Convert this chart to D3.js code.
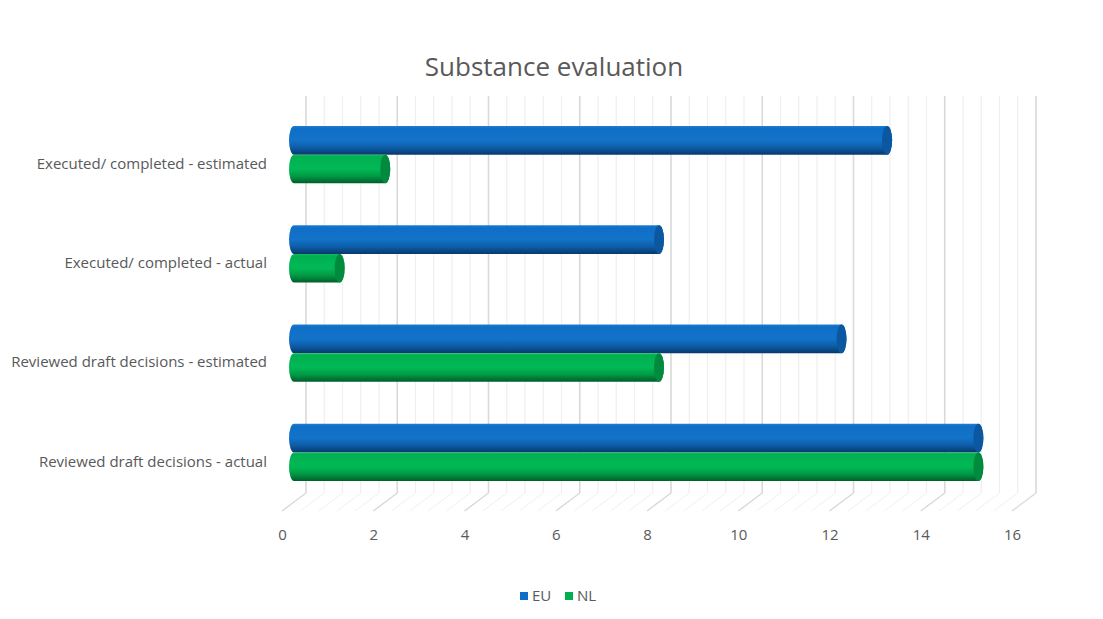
<!DOCTYPE html>
<html>
<head>
<meta charset="utf-8">
<script src="https://cdn.jsdelivr.net/npm/d3@7"></script>
<style>
body { margin: 0; background: #fff; }
text { font-family: "Open Sans", "Liberation Sans", sans-serif; fill: #595959; }
</style>
</head>
<body>
<svg id="chart" width="1103" height="619"></svg>
<script>
var CATEGORIES = [
    "Executed/ completed - estimated",
    "Executed/ completed - actual",
    "Reviewed draft decisions - estimated",
    "Reviewed draft decisions - actual"
];
var SERIES = ["EU", "NL"];
var EU_VALUES = [13, 8, 12, 15];
var NL_VALUES = [2, 1, 8, 15];
var X_TICKS = [0, 2, 4, 6, 8, 10, 12, 14, 16];

var WALL_TOP = 96;
var WALL_BOTTOM = 493;
var DEPTH_X = -24;
var DEPTH_Y = 18;
var CAP_RX = 5;

var COLORS = {
    EU: { stops: ["#1f7dd2", "#0f6fc6", "#1273c9", "#0d5da8", "#08396c"], cap: "#0b57a0", key: "#0f6fc6" },
    NL: { stops: ["#17bb60", "#00b050", "#02b956", "#009a45", "#005e2a"], cap: "#008a3d", key: "#00b050" }
};
var STOP_OFFSETS = [0, 0.08, 0.5, 0.75, 1];

var svg = d3.select("#chart");

// back wall scale, front (floor edge) and mid depth (bars) are shifted from it
var xBack = d3.scaleLinear().domain([0, 16]).range([306, 1036]);
var xFront = d3.scaleLinear().domain([0, 16]).range([306 + DEPTH_X, 1036 + DEPTH_X]);
var xMid = d3.scaleLinear().domain([0, 16]).range([306 + DEPTH_X / 2, 1036 + DEPTH_X / 2]);

var y0 = d3.scaleBand().domain(CATEGORIES).range([WALL_TOP, WALL_BOTTOM])
    .paddingInner(0.425).paddingOuter(0.2125);
var y1 = d3.scaleBand().domain(SERIES).range([0, y0.bandwidth()]);

var rows = CATEGORIES.map(function(c, i) {
    return { category: c, values: [
        { key: "EU", value: EU_VALUES[i] },
        { key: "NL", value: NL_VALUES[i] }
    ]};
});

// gradients
var defs = svg.append("defs");
SERIES.forEach(function(s) {
    var g = defs.append("linearGradient").attr("id", "grad-" + s)
        .attr("x1", 0).attr("y1", 0).attr("x2", 0).attr("y2", 1);
    COLORS[s].stops.forEach(function(c, i) {
        g.append("stop").attr("offset", STOP_OFFSETS[i]).attr("stop-color", c);
    });
});

// Title
svg.append("text")
    .attr("x", 554).attr("y", 76)
    .attr("text-anchor", "middle")
    .style("font-size", "26px")
    .text("Substance evaluation");

// Grid: minor every 0.4, major every 2
var gridValues = d3.range(0, 40.5).map(function(i) { return i * 0.4; });
var grid = svg.append("g").attr("class", "grid");
gridValues.forEach(function(v) {
    var major = Math.abs(v / 2 - Math.round(v / 2)) < 1e-6;
    var col = major ? "#d9d9d9" : "#efefef";
    grid.append("line")
        .attr("x1", xBack(v)).attr("x2", xBack(v))
        .attr("y1", WALL_TOP).attr("y2", WALL_BOTTOM)
        .attr("stroke", col).attr("stroke-width", major ? 1.6 : 1.2);
    grid.append("line")
        .attr("x1", xBack(v)).attr("y1", WALL_BOTTOM)
        .attr("x2", xBack(v) + DEPTH_X).attr("y2", WALL_BOTTOM + DEPTH_Y)
        .attr("stroke", col).attr("stroke-width", major ? 1.4 : 1);
});

// Bars (cylinders)
function cylinder(x0, x1, top, bottom) {
    var ry = (bottom - top) / 2;
    return "M" + x0 + "," + top + "L" + x1 + "," + top +
        "A" + CAP_RX + "," + ry + " 0 0 1 " + x1 + "," + bottom +
        "L" + x0 + "," + bottom +
        "A" + CAP_RX + "," + ry + " 0 0 1 " + x0 + "," + top + "Z";
}

var groups = svg.append("g").selectAll("g.cat")
    .data(rows)
    .join("g")
    .attr("class", "cat")
    .attr("transform", function(d) { return "translate(0," + (y0(d.category) + DEPTH_Y / 2) + ")"; });

var bars = groups.selectAll("g.bar")
    .data(function(d) { return d.values; })
    .join("g")
    .attr("class", "bar");

bars.append("path")
    .attr("d", function(d) {
        return cylinder(xMid(0), xMid(d.value), y1(d.key), y1(d.key) + y1.bandwidth());
    })
    .attr("fill", function(d) { return "url(#grad-" + d.key + ")"; });

bars.append("ellipse")
    .attr("cx", function(d) { return xMid(d.value); })
    .attr("cy", function(d) { return y1(d.key) + y1.bandwidth() / 2; })
    .attr("rx", CAP_RX)
    .attr("ry", y1.bandwidth() / 2)
    .attr("fill", function(d) { return COLORS[d.key].cap; });

// Category labels (front plane)
svg.append("g").selectAll("text")
    .data(CATEGORIES)
    .join("text")
    .attr("x", 267)
    .attr("y", function(d) { return y0(d) + y0.bandwidth() / 2 + DEPTH_Y; })
    .attr("dy", "0.35em")
    .attr("text-anchor", "end")
    .style("font-size", "15px")
    .text(function(d) { return d; });

// X axis on the front edge of the floor
var xAxis = svg.append("g")
    .attr("transform", "translate(0," + (WALL_BOTTOM + DEPTH_Y + 10) + ")")
    .call(d3.axisBottom(xFront).tickValues(X_TICKS).tickSize(0).tickPadding(8));
xAxis.select(".domain").remove();
xAxis.selectAll("text")
    .style("font-size", "15px")
    .style("font-family", "'Open Sans', 'Liberation Sans', sans-serif")
    .attr("fill", "#595959");

// Legend
var legend = svg.append("g").attr("transform", "translate(520,596)");
var legendX = d3.scaleOrdinal().domain(SERIES).range([0, 45]);
var items = legend.selectAll("g")
    .data(SERIES)
    .join("g")
    .attr("transform", function(d) { return "translate(" + legendX(d) + ",0)"; });
items.append("rect")
    .attr("x", 0).attr("y", -4).attr("width", 8).attr("height", 8)
    .attr("fill", function(d) { return COLORS[d].key; });
items.append("text")
    .attr("x", 12).attr("dy", "0.35em")
    .style("font-size", "15px")
    .text(function(d) { return d; });
</script>
</body>
</html>
